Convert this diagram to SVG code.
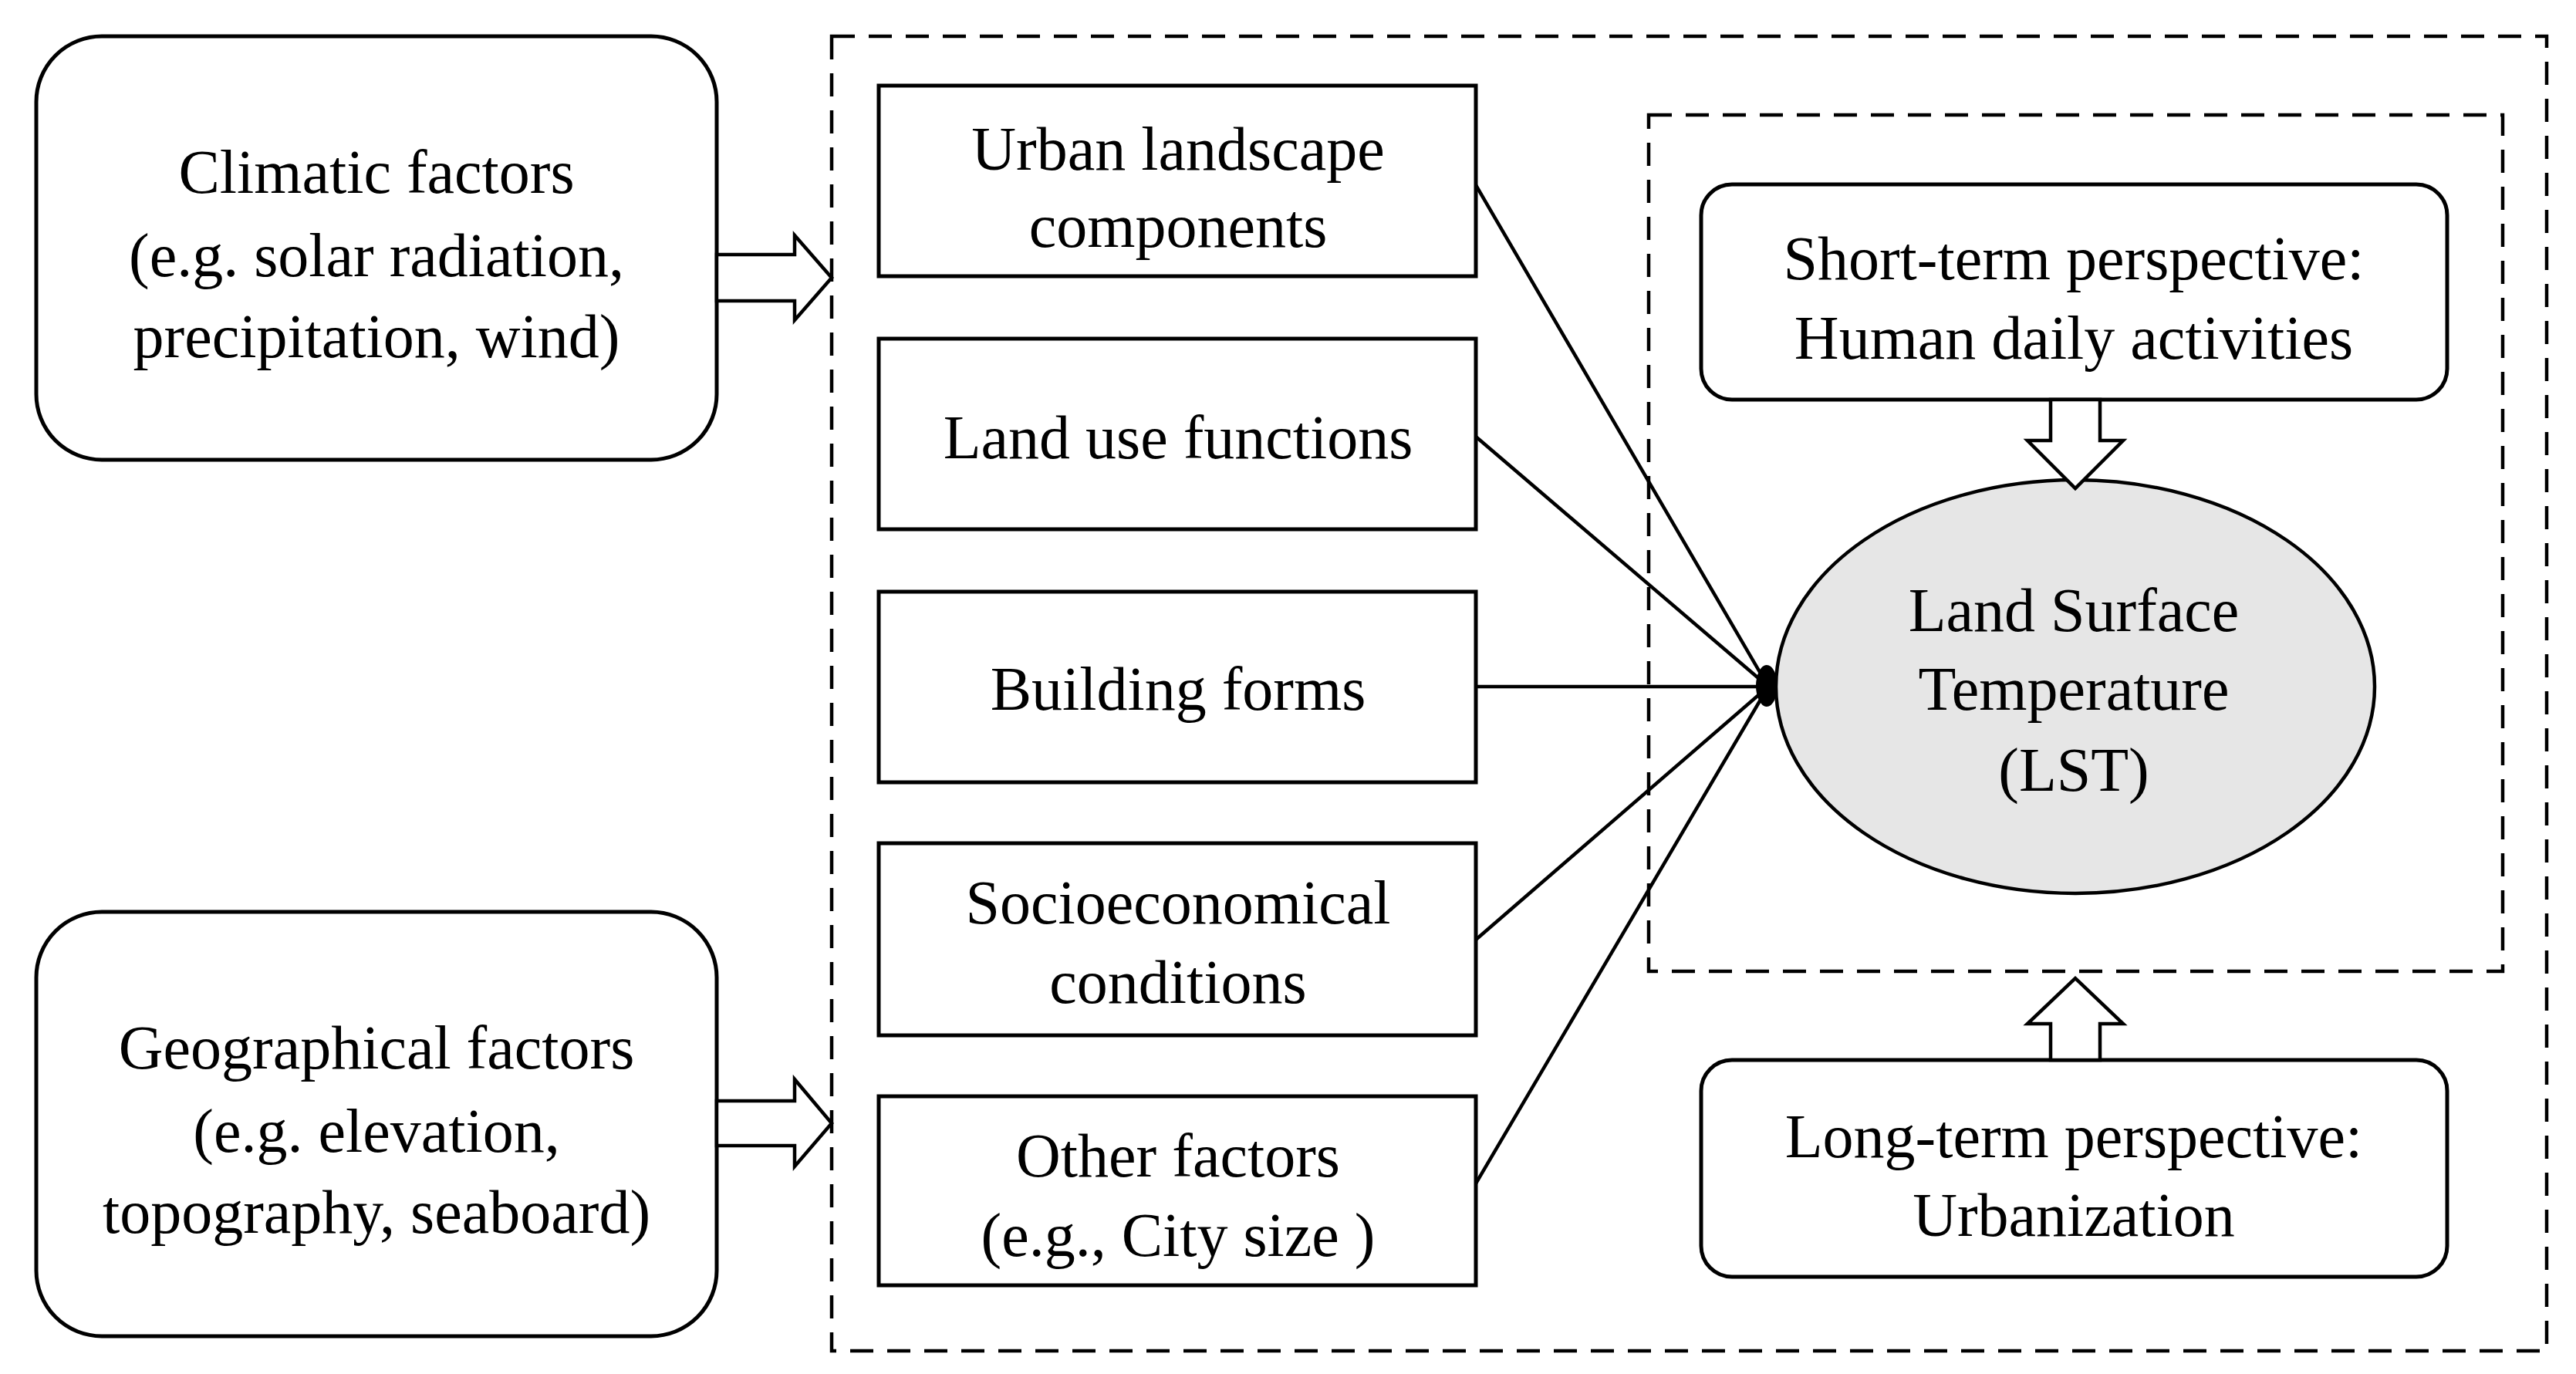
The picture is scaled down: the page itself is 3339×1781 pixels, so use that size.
<svg xmlns="http://www.w3.org/2000/svg" width="3339" height="1781" viewBox="0 0 3339 1781">
<style>
.b{fill:#fff;stroke:#000;stroke-width:5}
.d{fill:none;stroke:#000;stroke-width:4.5;stroke-dasharray:30 18}
.l{stroke:#000;stroke-width:4.5;fill:none}
.ar{fill:#fff;stroke:#000;stroke-width:4.5;stroke-linejoin:miter}
text{font-family:"Liberation Serif","Times New Roman",serif;font-size:80px;text-anchor:middle;fill:#000}
</style>
<rect width="3339" height="1781" fill="#fff"/>
<rect class="d" x="1078" y="47" width="2223" height="1704"/>
<rect class="d" x="2137" y="149" width="1107" height="1110"/>
<g id="climatic"><rect class="b" x="47" y="47" width="882" height="549" rx="85"/>
<text x="488" y="250">Climatic factors</text><text x="488" y="358">(e.g. solar radiation,</text><text x="488" y="463">precipitation, wind)</text></g>
<g id="geographical"><rect class="b" x="47" y="1182" width="882" height="550" rx="85"/>
<text x="488" y="1385">Geographical factors</text><text x="488" y="1493">(e.g. elevation,</text><text x="488" y="1598">topography, seaboard)</text></g>
<g id="urban"><rect class="b" x="1139" y="111" width="774" height="247"/><text x="1527" y="220">Urban landscape</text><text x="1527" y="320">components</text></g>
<g id="landuse"><rect class="b" x="1139" y="439" width="774" height="247"/><text x="1527" y="594">Land use functions</text></g>
<g id="building"><rect class="b" x="1139" y="767" width="774" height="247"/><text x="1527" y="920">Building forms</text></g>
<g id="socio"><rect class="b" x="1139" y="1093" width="774" height="249"/><text x="1527" y="1197">Socioeconomical</text><text x="1527" y="1300">conditions</text></g>
<g id="other"><rect class="b" x="1139" y="1421" width="774" height="245"/><text x="1527" y="1525">Other factors</text><text x="1527" y="1628">(e.g., City size )</text></g>
<g id="shortterm"><rect class="b" x="2205" y="239" width="967" height="279" rx="40"/><text x="2688" y="362">Short-term perspective:</text><text x="2688" y="465">Human daily activities</text></g>
<g id="longterm"><rect class="b" x="2205" y="1374" width="967" height="281" rx="40"/><text x="2688" y="1500">Long-term perspective:</text><text x="2688" y="1602">Urbanization</text></g>
<g id="lst"><ellipse cx="2690" cy="890" rx="388" ry="268" fill="#e6e6e6" stroke="#000" stroke-width="4.5"/>
<text x="2688" y="818">Land Surface</text><text x="2688" y="920">Temperature</text><text x="2688" y="1025">(LST)</text></g>
<g id="connectors">
<path class="l" d="M1913 240L2292 890M1913 566L2292 890M1913 890L2292 890M1913 1218L2292 890M1913 1534L2292 890"/>
<ellipse cx="2290" cy="889" rx="14" ry="27" fill="#000"/>
<path class="ar" d="M929 330H1030V305L1078 360L1030 415V390H929Z"/>
<path class="ar" d="M929 1427H1030V1399L1078 1456L1030 1512V1485H929Z"/>
<path class="ar" d="M2658 518V571H2628L2690 633L2752 571H2722V518Z"/>
<path class="ar" d="M2658 1374V1327H2628L2690 1268L2752 1327H2722V1374Z"/>
</g>
</svg>
